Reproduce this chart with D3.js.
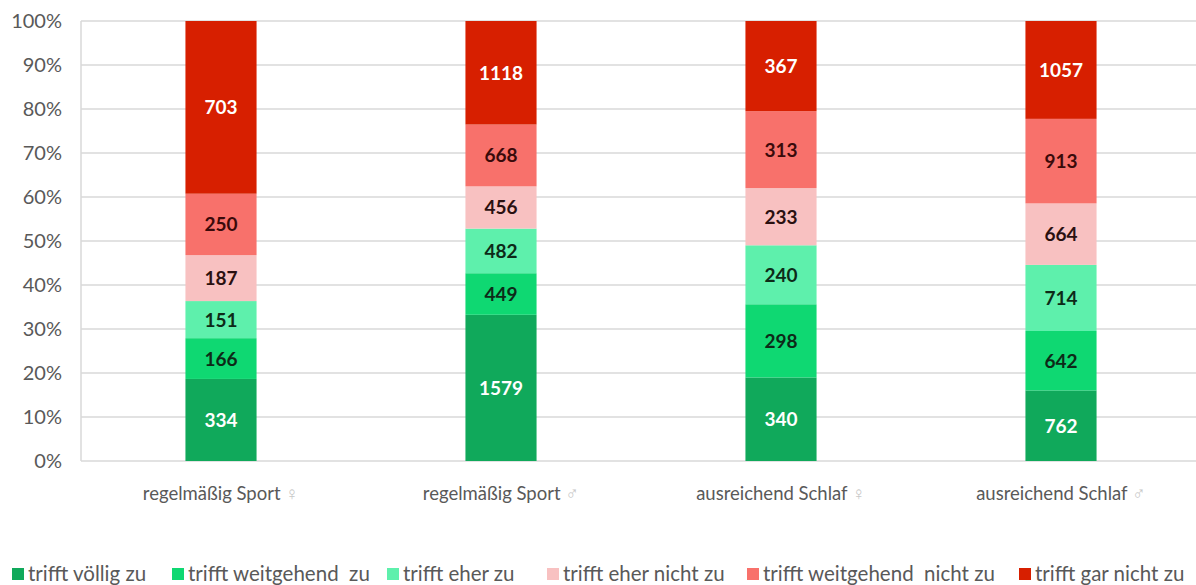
<!DOCTYPE html>
<html><head><meta charset="utf-8">
<script src="https://cdn.jsdelivr.net/npm/d3@7"></script>
<style>
body{margin:0;background:#fff;}
svg{display:block;font-family:Lato,"Open Sans",sans-serif;}
</style></head>
<body><svg id="c" width="1196" height="585"></svg>
<script>
const categories = ["regelmäßig Sport", "regelmäßig Sport", "ausreichend Schlaf", "ausreichend Schlaf"];
const genderSymbols = ["♀", "♂", "♀", "♂"];
const seriesNames = ["trifft völlig zu", "trifft weitgehend  zu", "trifft eher zu", "trifft eher nicht zu", "trifft weitgehend  nicht zu", "trifft gar nicht zu"];
const voelligZu = [334, 1579, 340, 762];
const weitgehendZu = [166, 449, 298, 642];
const eherZu = [151, 482, 240, 714];
const eherNichtZu = [187, 456, 233, 664];
const weitgehendNichtZu = [250, 668, 313, 913];
const garNichtZu = [703, 1118, 367, 1057];
const seriesColors = ["#10a95b", "#0fd872", "#5ef0ac", "#f8c1c1", "#f8716b", "#d71f00"];
const labelColors = ["#ffffff", "#0d2a18", "#0d2a18", "#2a1010", "#3a0a0a", "#ffffff"];
const yTicks = [0, 0.1, 0.2, 0.3, 0.4, 0.5, 0.6, 0.7, 0.8, 0.9, 1];

const seriesValues = [voelligZu, weitgehendZu, eherZu, eherNichtZu, weitgehendNichtZu, garNichtZu];
const rows = categories.map((c, i) => {
  const r = {idx: i};
  const tot = d3.sum(seriesValues, s => s[i]);
  seriesNames.forEach((n, k) => { r[n] = seriesValues[k][i] / tot; r["raw" + k] = seriesValues[k][i]; });
  return r;
});

const svg = d3.select("#c");
const pLeft = 81, pRight = 1201, pTop = 21, pBottom = 461;
const x = d3.scaleBand().domain(d3.range(categories.length)).range([pLeft, pRight]).paddingInner(0.746).paddingOuter(0.373);
const y = d3.scaleLinear().domain([0, 1]).range([pBottom, pTop]);

// gridlines
svg.append("g").selectAll("line").data(yTicks).join("line")
  .attr("x1", pLeft).attr("x2", pRight)
  .attr("y1", d => y(d)).attr("y2", d => y(d))
  .attr("stroke", "#d9d9d9").attr("stroke-width", 1.5);
svg.append("line").attr("x1", pLeft).attr("x2", pLeft).attr("y1", pTop).attr("y2", pBottom)
  .attr("stroke", "#d9d9d9").attr("stroke-width", 1.5);

// y axis labels
const yAxis = d3.axisLeft(y).tickValues(yTicks).tickFormat(d3.format(".0%")).tickSize(0).tickPadding(19);
const ya = svg.append("g").attr("transform", `translate(${pLeft},0)`).call(yAxis);
ya.select(".domain").remove();
ya.selectAll("text").attr("font-size", 20).attr("fill", "#595959").attr("font-family", "Lato, sans-serif");

// stacked bars
const stack = d3.stack().keys(seriesNames);
const layers = stack(rows);
const g = svg.append("g");
layers.forEach((layer, k) => {
  const lg = g.append("g");
  lg.selectAll("rect").data(layer).join("rect")
    .attr("x", (d, i) => x(i)).attr("width", x.bandwidth())
    .attr("y", d => y(d[1])).attr("height", d => y(d[0]) - y(d[1]))
    .attr("fill", seriesColors[k]);
  lg.selectAll("text").data(layer).join("text")
    .attr("x", (d, i) => x(i) + x.bandwidth() / 2)
    .attr("y", d => (y(d[0]) + y(d[1])) / 2 + 7)
    .attr("text-anchor", "middle").attr("font-size", 19).attr("font-weight", "bold")
    .attr("fill", labelColors[k])
    .text(d => d.data["raw" + k]);
});

// x axis labels
const xa = svg.append("g");
categories.forEach((c, i) => {
  const t = xa.append("text").attr("x", x(i) + x.bandwidth() / 2).attr("y", 500)
    .attr("text-anchor", "middle").attr("font-size", 18.5).attr("fill", "#595959");
  t.append("tspan").text(c + " ");
  t.append("tspan").attr("fill", "#c8c8c8").text(genderSymbols[i]);
});

// legend
const lgX = [12, 172, 387, 547, 747, 1019];
const leg = svg.append("g");
seriesNames.forEach((n, k) => {
  leg.append("rect").attr("x", lgX[k]).attr("y", 568).attr("width", 12).attr("height", 12).attr("fill", seriesColors[k]);
  leg.append("text").attr("x", lgX[k] + 16).attr("y", 581).attr("font-size", 20.5).attr("fill", "#595959")
    .attr("xml:space", "preserve").style("white-space", "pre").text(n);
});
</script></body></html>
